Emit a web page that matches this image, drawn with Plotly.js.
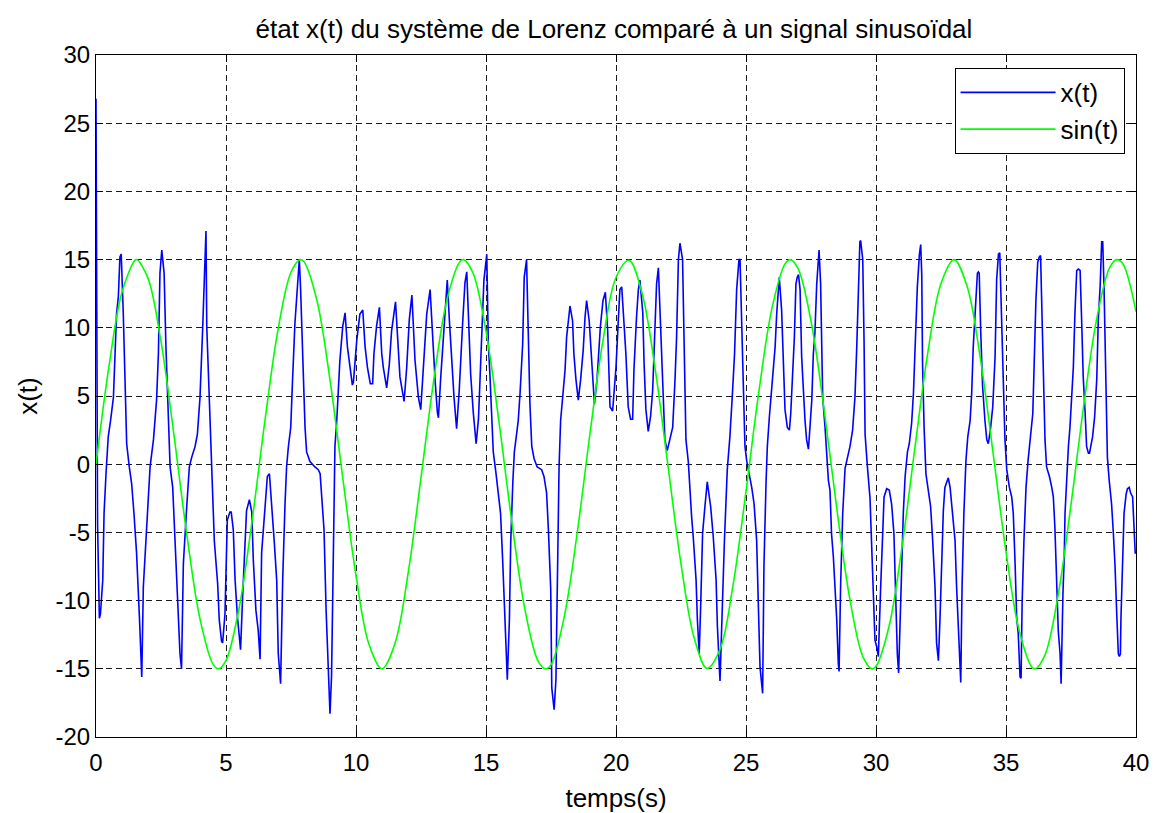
<!DOCTYPE html>
<html>
<head>
<meta charset="utf-8">
<script src="https://cdn.plot.ly/plotly-3.0.1.min.js"></script>
<style>
  html, body { margin: 0; padding: 0; background: #ffffff; }
  #chart { width: 1154px; height: 813px; }
</style>
</head>
<body>
<div id="chart"></div>
<script>
// ---- Data ----
const lorenzT = [
  0, 0.01, 0.06, 0.13, 0.17, 0.26, 0.31, 0.385, 0.47, 0.56, 0.67, 0.79, 0.86, 0.92, 0.97,
  1.05, 1.12, 1.18, 1.28, 1.37, 1.46, 1.56, 1.67, 1.76, 1.82, 1.92, 2.01, 2.08, 2.21, 2.33,
  2.40, 2.46, 2.53, 2.62, 2.69, 2.78, 2.85, 2.95, 3.04, 3.13, 3.23, 3.29, 3.36, 3.49, 3.59,
  3.68, 3.81, 3.90, 4.00, 4.10, 4.19, 4.23, 4.26, 4.36, 4.46, 4.55, 4.68, 4.74, 4.83, 4.87,
  4.96, 5.00, 5.05, 5.15, 5.20, 5.28, 5.35, 5.44, 5.56, 5.64, 5.73, 5.79, 5.90, 5.99, 6.05,
  6.15, 6.24, 6.31, 6.37, 6.50, 6.59, 6.67, 6.76, 6.86, 6.95, 7.01, 7.10, 7.18, 7.27, 7.33,
  7.40, 7.49, 7.56, 7.65, 7.74, 7.82, 7.87, 7.95, 8.04, 8.10, 8.23, 8.42, 8.55, 8.62, 8.68,
  8.77, 8.85, 8.94, 9.00, 9.06, 9.15, 9.19, 9.26, 9.32, 9.38, 9.49, 9.58, 9.67, 9.77, 9.86,
  9.90, 10.03, 10.15, 10.26, 10.35, 10.44, 10.55, 10.64, 10.69, 10.79, 10.90, 10.99, 11.05, 11.18, 11.28,
  11.37, 11.52, 11.63, 11.69, 11.85, 11.95, 12.05, 12.15, 12.27, 12.40, 12.49, 12.59, 12.72, 12.85, 12.95,
  13.04, 13.13, 13.17, 13.26, 13.36, 13.51, 13.59, 13.68, 13.77, 13.87, 13.97, 14.10, 14.19, 14.26, 14.33,
  14.41, 14.51, 14.62, 14.71, 14.83, 14.92, 15.03, 15.09, 15.15, 15.22, 15.28, 15.38, 15.47, 15.56, 15.64,
  15.73, 15.82, 15.90, 15.95, 16.03, 16.09, 16.15, 16.24, 16.31, 16.41, 16.47, 16.56, 16.63, 16.69, 16.76,
  16.85, 16.97, 17.14, 17.23, 17.33, 17.40, 17.49, 17.53, 17.62, 17.69, 17.74, 17.81, 17.87, 17.95, 18.04,
  18.10, 18.23, 18.33, 18.38, 18.46, 18.55, 18.64, 18.74, 18.81, 18.87, 18.97, 19.06, 19.17, 19.27, 19.40,
  19.50, 19.59, 19.68, 19.77, 19.87, 20.00, 20.09, 20.15, 20.22, 20.31, 20.38, 20.47, 20.56, 20.64, 20.69,
  20.79, 20.86, 20.92, 21.03, 21.08, 21.15, 21.24, 21.33, 21.41, 21.50, 21.56, 21.63, 21.72, 21.79, 21.88,
  21.97, 22.08, 22.18, 22.27, 22.33, 22.40, 22.46, 22.56, 22.62, 22.69, 22.78, 22.85, 22.91, 22.97, 23.08,
  23.13, 23.20, 23.26, 23.33, 23.42, 23.51, 23.64, 23.74, 23.85, 23.90, 24.00, 24.08, 24.17, 24.28, 24.38,
  24.47, 24.56, 24.64, 24.73, 24.77, 24.83, 24.90, 24.96, 25.03, 25.13, 25.22, 25.31, 25.41, 25.47, 25.54,
  25.64, 25.69, 25.77, 25.82, 25.90, 25.99, 26.05, 26.12, 26.18, 26.24, 26.28, 26.37, 26.44, 26.50, 26.59,
  26.67, 26.72, 26.79, 26.86, 26.92, 26.97, 27.02, 27.08, 27.14, 27.21, 27.27, 27.33, 27.40, 27.46, 27.53,
  27.59, 27.65, 27.72, 27.81, 27.87, 27.95, 28.04, 28.10, 28.17, 28.23, 28.29, 28.36, 28.42, 28.49, 28.55,
  28.58, 28.64, 28.72, 28.81, 28.90, 29.00, 29.10, 29.19, 29.26, 29.32, 29.38, 29.41, 29.49, 29.54, 29.58,
  29.67, 29.77, 29.83, 29.90, 29.96, 30.03, 30.09, 30.18, 30.26, 30.31, 30.41, 30.51, 30.60, 30.69, 30.74,
  30.82, 30.87, 30.95, 31.00, 31.05, 31.12, 31.21, 31.28, 31.37, 31.44, 31.54, 31.59, 31.67, 31.72, 31.76,
  31.79, 31.85, 31.92, 32.01, 32.10, 32.18, 32.27, 32.33, 32.40, 32.46, 32.53, 32.59, 32.65, 32.74, 32.78,
  32.85, 32.95, 33.04, 33.10, 33.17, 33.26, 33.31, 33.38, 33.46, 33.53, 33.62, 33.68, 33.74, 33.85, 33.90,
  33.94, 33.97, 34.03, 34.10, 34.19, 34.26, 34.32, 34.41, 34.49, 34.58, 34.64, 34.71, 34.76, 34.81, 34.88,
  34.96, 35.03, 35.13, 35.22, 35.28, 35.35, 35.41, 35.47, 35.54, 35.58, 35.62, 35.69, 35.77, 35.85, 35.90,
  35.97, 36.03, 36.08, 36.15, 36.22, 36.28, 36.33, 36.37, 36.44, 36.50, 36.56, 36.67, 36.76, 36.82, 36.88,
  36.95, 37.01, 37.08, 37.12, 37.19, 37.24, 37.27, 37.33, 37.40, 37.46, 37.53, 37.59, 37.65, 37.72, 37.78,
  37.85, 37.91, 37.97, 38.04, 38.10, 38.17, 38.21, 38.26, 38.33, 38.41, 38.49, 38.55, 38.62, 38.68, 38.72,
  38.77, 38.85, 38.90, 38.97, 39.06, 39.13, 39.19, 39.26, 39.32, 39.36, 39.40, 39.42, 39.49, 39.54, 39.62,
  39.67, 39.74, 39.79, 39.87, 39.92, 39.97, 40.00
];
const lorenzX = [
  26.8, 16.9, -4.4, -11.3, -11.0, -8.5, -3.6, -0.7, 2.0, 3.2, 4.9, 11.0, 12.3, 15.2, 15.4,
  11.0, 6.2, 1.5, -0.2, -1.4, -3.6, -6.5, -11.2, -15.6, -9.0, -5.6, -2.6, -0.2, 1.8, 4.7,
  8.1, 14.0, 15.7, 14.0, 8.6, 3.2, -0.2, -1.7, -5.6, -10.7, -13.9, -15.0, -7.3, -3.1, -0.2,
  0.5, 1.3, 2.2, 4.9, 9.8, 16.2, 17.1, 10.1, 4.7, -2.2, -5.6, -8.8, -11.4, -13.0, -13.1,
  -11.0, -6.8, -4.1, -3.5, -3.5, -4.8, -8.5, -11.2, -13.6, -9.7, -6.3, -3.4, -2.6, -3.5, -7.0,
  -10.7, -12.2, -14.3, -6.5, -3.4, -0.9, -0.7, -2.9, -5.8, -8.5, -13.9, -16.1, -8.5, -2.9, -0.2,
  1.3, 2.7, 6.2, 10.3, 12.8, 15.0, 12.8, 7.4, 2.7, 0.9, 0.2, -0.2, -0.4, -0.7, -2.6,
  -4.8, -10.7, -15.3, -18.3, -15.5, -5.1, 1.3, 3.2, 5.7, 7.6, 10.1, 11.1, 8.6, 6.9, 5.8,
  6.0, 9.1, 11.0, 11.3, 8.6, 7.1, 5.9, 5.9, 8.1, 10.1, 11.5, 8.1, 7.1, 5.6, 7.3,
  9.8, 11.9, 8.1, 6.4, 4.6, 7.1, 10.6, 12.4, 7.6, 4.9, 4.0, 7.1, 11.0, 12.8, 8.8,
  6.2, 3.8, 3.4, 6.4, 9.6, 13.5, 10.6, 7.6, 4.9, 2.6, 5.4, 10.3, 13.3, 14.1, 10.6,
  6.6, 3.8, 1.5, 3.3, 9.3, 13.5, 15.4, 8.8, 6.6, 3.2, 0.9, -0.6, -2.1, -3.6, -7.0,
  -11.0, -15.8, -11.4, -5.8, -1.4, 0.9, 1.8, 3.2, 5.2, 8.8, 13.7, 15.0, 9.3, 4.4, 1.3,
  0.4, -0.2, -0.4, -0.9, -2.1, -4.8, -9.2, -16.4, -18.0, -15.8, -7.5, -0.2, 3.2, 4.9, 6.9,
  9.3, 11.6, 10.5, 8.1, 6.2, 4.7, 6.2, 8.4, 10.8, 12.0, 10.5, 7.4, 4.4, 6.2, 10.1,
  12.0, 12.6, 9.8, 4.2, 3.9, 7.1, 10.6, 12.8, 13.0, 10.6, 8.1, 4.2, 3.3, 3.3, 6.9,
  10.8, 12.8, 13.5, 11.1, 7.4, 4.0, 2.4, 3.5, 5.4, 10.6, 13.2, 14.4, 9.6, 5.2, 1.8,
  1.0, 1.8, 2.7, 6.2, 9.3, 15.0, 16.2, 15.0, 7.6, 1.8, 0.2, -2.2, -3.9, -5.3, -8.5,
  -11.4, -13.9, -10.2, -5.1, -3.1, -1.3, -3.1, -5.3, -8.5, -11.9, -15.9, -10.2, -5.6, -0.4, 2.0,
  4.9, 8.1, 12.8, 15.0, 15.0, 10.6, 4.7, 1.3, 0.2, -0.7, -1.7, -2.9, -5.6, -10.0, -14.9,
  -16.8, -7.5, -1.4, 1.3, 3.5, 5.7, 7.1, 8.6, 11.0, 13.2, 13.7, 11.3, 6.6, 4.0, 2.7,
  2.5, 3.7, 6.2, 9.3, 13.2, 13.7, 13.9, 12.8, 7.9, 5.2, 3.2, 1.8, 1.1, 2.7, 4.7,
  8.1, 9.6, 13.2, 15.7, 13.2, 4.9, 2.7, 0.9, -1.2, -1.9, -5.1, -6.8, -8.8, -11.4, -14.6,
  -15.2, -8.8, -3.6, -0.3, 0.5, 1.3, 2.5, 4.9, 8.6, 13.5, 16.3, 16.4, 15.0, 9.1, 2.2,
  -0.2, -2.5, -5.8, -9.0, -12.9, -13.4, -14.1, -9.0, -5.1, -2.4, -1.8, -1.9, -2.9, -5.1, -8.5,
  -13.9, -15.3, -9.5, -6.0, -3.6, -0.9, 0.9, 1.5, 3.0, 5.2, 10.1, 13.0, 15.4, 16.1, 13.9,
  7.4, 2.7, -0.7, -1.9, -3.1, -5.6, -9.0, -13.1, -14.4, -11.4, -6.5, -3.4, -1.7, -1.1, -1.0,
  -1.7, -3.6, -5.6, -9.0, -12.4, -16.0, -9.0, -3.6, 0.3, 2.0, 3.2, 5.2, 8.6, 12.8, 14.0,
  14.1, 14.0, 9.6, 5.7, 3.2, 1.8, 1.5, 2.7, 4.2, 7.9, 13.5, 15.4, 15.5, 12.0, 6.0,
  1.8, -0.4, -1.7, -2.4, -3.6, -7.3, -11.2, -12.4, -15.6, -15.7, -10.2, -5.6, -1.7, 0.3, 1.3,
  2.2, 3.7, 7.1, 12.0, 14.8, 15.2, 15.3, 11.8, 5.2, 1.8, -0.2, -0.9, -1.7, -2.4, -4.6,
  -8.1, -12.2, -13.9, -16.1, -9.5, -6.8, -3.6, -0.9, 1.3, 2.7, 5.2, 7.1, 11.0, 14.2, 14.3,
  14.2, 10.5, 6.4, 3.9, 1.3, 0.8, 0.8, 1.3, 2.0, 3.5, 6.2, 10.6, 13.0, 16.3, 16.3,
  13.0, 4.9, 0.5, -1.2, -2.9, -5.1, -7.3, -11.0, -13.9, -14.1, -13.9, -11.4, -7.0, -3.6, -2.2,
  -1.8, -1.7, -2.1, -2.4, -4.1, -6.5, -6.5
];
const sinT = [
  0, 0.5, 1, 1.5, 1.571, 2, 2.5, 3, 3.5, 4, 4.5, 4.712, 5, 5.5, 6, 6.5, 7, 7.5, 7.854, 8, 8.5, 9, 9.5,
  10, 10.5, 11, 11.5, 12, 12.5, 13, 13.5, 14, 14.137, 14.5, 15, 15.5, 16, 16.5, 17, 17.279, 17.5, 18, 18.5, 19, 19.5,
  20, 20.5, 21, 21.5, 22, 22.5, 23, 23.5, 24, 24.5, 25, 25.5, 26, 26.5, 26.704, 27, 27.5, 28, 28.5, 29, 29.5, 29.845,
  30, 30.5, 31, 31.5, 32, 32.5, 33, 33.5, 34, 34.5, 35, 35.5, 36, 36.128, 36.5, 37, 37.5, 38, 38.5, 39, 39.27, 39.5, 40
];
const sinY = [
  0, 7.19, 12.62, 14.96, 15.00, 13.64, 8.98, 2.12, -5.26, -11.35, -14.66, -15.00, -14.38, -10.58, -4.19, 3.23, 9.85, 14.07, 15.00, 14.84, 11.98, 6.18, -1.13,
  -8.16, -13.20, -15.00, -13.13, -8.05, -0.99, 6.30, 12.06, 14.86, 15.00, 14.02, 9.75, 3.10, -4.32, -10.68, -14.42, -15.00, -14.71, -11.27, -5.14, 2.25, 9.08,
  13.69, 14.95, 12.55, 7.07, -0.13, -7.31, -12.69, -14.97, -13.58, -8.87, -1.99, 5.39, 11.44, 14.69, 15.00, 14.35, 10.50, 4.06, -3.36, -9.95, -14.12, -15.00,
  -14.82, -11.90, -6.06, 1.26, 8.27, 13.25, 15.00, 13.07, 7.94, 0.86, -6.42, -12.14, -14.88, -15.00, -13.98, -9.65, -2.97, 4.45, 10.77, 14.46, 15.00, 14.68, 11.18
];
const seriesNames = ['x(t)', 'sin(t)'];
const xTicks = [0, 5, 10, 15, 20, 25, 30, 35, 40];
const yTicks = [-20, -15, -10, -5, 0, 5, 10, 15, 20, 25, 30];

const FONT = 'Liberation Sans, Arial, Helvetica, sans-serif';

const traces = [
  {
    x: lorenzT, y: lorenzX, name: seriesNames[0], type: 'scatter', mode: 'lines',
    line: { color: '#0000ff', width: 1.6 }
  },
  {
    x: sinT, y: sinY, name: seriesNames[1], type: 'scatter', mode: 'lines',
    line: { color: '#00ff00', width: 1.6, shape: 'spline', smoothing: 1 }
  }
];

const axisCommon = {
  showline: true, linecolor: '#000000', linewidth: 1, mirror: 'ticks',
  ticks: 'inside', ticklen: 7, tickcolor: '#000000', tickwidth: 1,
  showgrid: true, gridcolor: '#1a1a1a', gridwidth: 1, griddash: '6px,4px',
  zeroline: false, tickfont: { family: FONT, size: 24, color: '#000000' }
};

const layout = {
  width: 1154, height: 813,
  paper_bgcolor: '#ffffff', plot_bgcolor: '#ffffff',
  margin: { l: 96, r: 18, t: 55, b: 76 },
  showlegend: true,
  title: {
    text: 'état x(t) du système de Lorenz comparé à un signal sinusoïdal',
    font: { family: FONT, size: 26, color: '#000000' },
    x: 0.532, xanchor: 'center', y: 0.965, yanchor: 'middle'
  },
  xaxis: Object.assign({}, axisCommon, {
    range: [0, 40], tickvals: xTicks, ticktext: xTicks.map(String),
    ticklabelstandoff: 4,
    title: { text: 'temps(s)', font: { family: FONT, size: 26, color: '#000000' }, standoff: 14 }
  }),
  yaxis: Object.assign({}, axisCommon, {
    range: [-20, 30], tickvals: yTicks, ticktext: yTicks.map(String),
    title: { text: 'x(t)', font: { family: FONT, size: 26, color: '#000000' }, standoff: 10 }
  }),
  legend: {
    x: 0.989, xanchor: 'right', y: 0.981, yanchor: 'top',
    bgcolor: '#ffffff', bordercolor: '#000000', borderwidth: 1,
    font: { family: FONT, size: 26, color: '#000000' },
    itemwidth: 95
  }
};

Plotly.newPlot('chart', traces, layout, { displayModeBar: false, staticPlot: true });
</script>
</body>
</html>
